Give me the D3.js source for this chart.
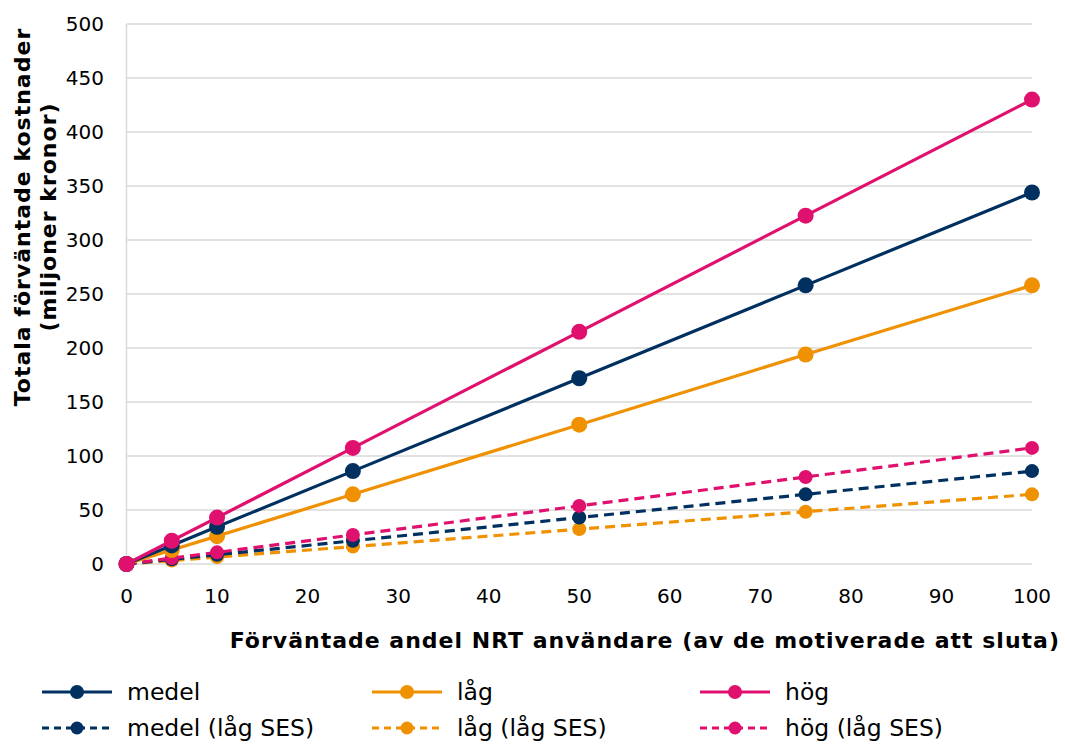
<!DOCTYPE html>
<meta charset="utf-8">
<script src="https://cdn.jsdelivr.net/npm/d3@7"></script>
<style>
  body { margin: 0; background: #fff; }
  text { font-family: "DejaVu Sans", Verdana, sans-serif; fill: #000; }
</style>
<body>
<script>
// andel NRT användare (x) och kostnader per serie
var andel = [0, 5, 10, 25, 50, 75, 100];
var medel = [0, 17.2, 34.4, 86, 172, 258, 344];
var lag = [0, 12.9, 25.8, 64.5, 129, 194, 258];
var hog = [0, 21.5, 43, 107.5, 215, 322.5, 430];
var medelSES = [0, 4.3, 8.6, 21.5, 43, 64.5, 86];
var lagSES = [0, 3.2, 6.5, 16.1, 32.3, 48.4, 64.5];
var hogSES = [0, 5.4, 10.8, 26.9, 53.8, 80.6, 107.5];
var xTicks = [0, 10, 20, 30, 40, 50, 60, 70, 80, 90, 100];
var yTicks = [0, 50, 100, 150, 200, 250, 300, 350, 400, 450, 500];

var navy = "#00305f", orange = "#ef9100", pink = "#e0106e";
var series = [
  {name: "medel", values: medel, color: navy, dash: null},
  {name: "låg", values: lag, color: orange, dash: null},
  {name: "hög", values: hog, color: pink, dash: null},
  {name: "medel (låg SES)", values: medelSES, color: navy, dash: "10,6"},
  {name: "låg (låg SES)", values: lagSES, color: orange, dash: "10,6"},
  {name: "hög (låg SES)", values: hogSES, color: pink, dash: "10,6"}
];

var w = 1065, h = 744;
var svg = d3.select("body").append("svg").attr("width", w).attr("height", h);

var x = d3.scaleLinear().domain([0, 100]).range([126.5, 1032]);
var y = d3.scaleLinear().domain([0, 500]).range([564, 24]);

// gridlines
svg.selectAll(".grid").data(yTicks).enter().append("line")
  .attr("x1", x(0)).attr("x2", x(100))
  .attr("y1", function(d) { return y(d); }).attr("y2", function(d) { return y(d); })
  .style("stroke", "#d9d9d9").style("stroke-width", 1.5);
svg.append("line").attr("x1", x(0)).attr("x2", x(0)).attr("y1", y(0)).attr("y2", y(500))
  .style("stroke", "#d9d9d9").style("stroke-width", 1.5);

// tick labels
svg.selectAll(".ylab").data(yTicks).enter().append("text")
  .attr("x", 104).attr("y", function(d) { return y(d); })
  .attr("dy", "0.35em").style("text-anchor", "end").style("font-size", "20px")
  .text(function(d) { return d; });
svg.selectAll(".xlab").data(xTicks).enter().append("text")
  .attr("x", function(d) { return x(d); }).attr("y", 603)
  .style("text-anchor", "middle").style("font-size", "20px")
  .text(function(d) { return d; });

// axis titles
svg.append("text").attr("x", 1060).attr("y", 648).style("text-anchor", "end")
  .style("font-size", "22px").style("font-weight", "bold").style("letter-spacing", "1px")
  .text("Förväntade andel NRT användare (av de motiverade att sluta)");
var yt = svg.append("text").attr("transform", "translate(30,217) rotate(-90)")
  .style("text-anchor", "middle").style("font-size", "22px").style("font-weight", "bold")
  .style("letter-spacing", "1px");
yt.append("tspan").attr("x", 0).attr("dy", 0).text("Totala förväntade kostnader");
yt.append("tspan").attr("x", 0).attr("dy", 26).text("(miljoner kronor)");

// lines & markers
var line = d3.line().x(function(d, i) { return x(andel[i]); }).y(function(d) { return y(d); });
var drawOrder = [4, 3, 5, 1, 0, 2];
drawOrder.forEach(function(k) {
  var s = series[k];
  svg.append("path").attr("d", line(s.values))
    .style("fill", "none").style("stroke", s.color).style("stroke-width", 3.2)
    .style("stroke-dasharray", s.dash);
  svg.selectAll(".m" + k).data(s.values).enter().append("circle")
    .attr("cx", function(d, i) { return x(andel[i]); })
    .attr("cy", function(d) { return y(d); })
    .attr("r", s.dash ? 7 : 8).style("fill", s.color);
});

// legend
var legX = [42, 372, 700], legY = [692, 728];
series.forEach(function(s, i) {
  var lx = legX[i % 3], ly = legY[Math.floor(i / 3)];
  svg.append("line").attr("x1", lx).attr("x2", lx + 70).attr("y1", ly).attr("y2", ly)
    .style("stroke", s.color).style("stroke-width", 3.2).style("stroke-dasharray", s.dash ? "7,5" : null);
  svg.append("circle").attr("cx", lx + 35).attr("cy", ly).attr("r", s.dash ? 6.5 : 7).style("fill", s.color);
  svg.append("text").attr("x", lx + 85).attr("y", ly).attr("dy", "0.35em")
    .style("font-size", "23.5px").text(s.name);
});
</script>
</body>
